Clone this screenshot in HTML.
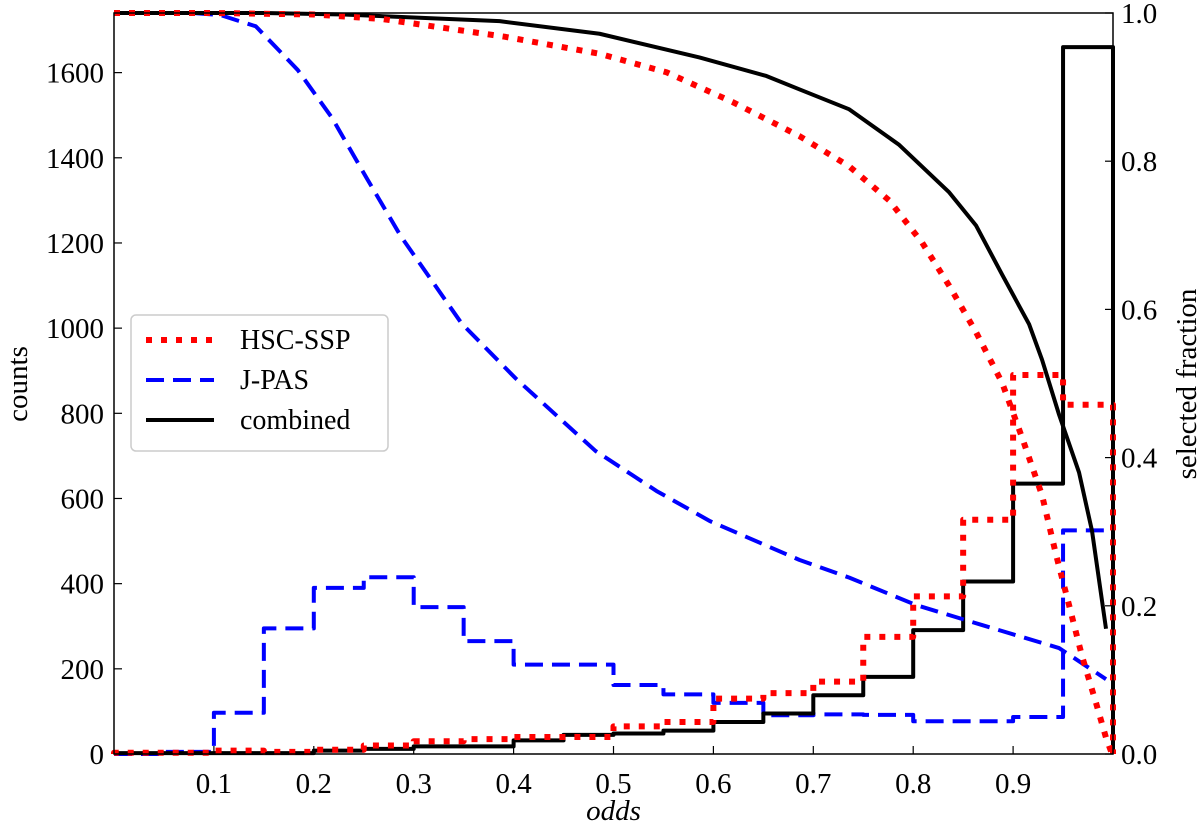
<!DOCTYPE html>
<html><head><meta charset="utf-8"><style>
html,body{margin:0;padding:0;background:#fff;}
svg{display:block;font-family:"Liberation Serif",serif;}
</style></head><body>
<svg id="chart" width="1200" height="828" viewBox="0 0 1200 828" xmlns="http://www.w3.org/2000/svg"></svg>
<script>
const binEdges=[0,0.05,0.1,0.15,0.2,0.25,0.3,0.35,0.4,0.45,0.5,0.55,0.6,0.65,0.7,0.75,0.8,0.85,0.9,0.95,1.0];
const histHSC=[3,3,8,5,10,20,30,35,40,40,65,75,130,143,170,275,370,550,890,820];
const histJPAS=[0,5,97,295,390,415,345,265,210,210,162,140,120,91,93,92,77,77,87,525];
const histComb=[2,2,2,2,8,12,18,18,32,45,48,55,75,95,138,181,291,405,635,1660];
const fracHSC_x=[0,0.1,0.2,0.268,0.391,0.486,0.553,0.619,0.686,0.736,0.776,0.809,0.836,0.863,0.889,0.909,0.929,0.943,0.956,0.969,0.983,0.993,0.999];
const fracHSC_y=[1,1,0.998,0.992,0.968,0.945,0.92,0.88,0.834,0.793,0.747,0.69,0.632,0.569,0.501,0.427,0.349,0.269,0.201,0.132,0.069,0.022,0];
const fracJPAS_x=[0,0.08,0.107,0.142,0.184,0.218,0.253,0.287,0.318,0.348,0.402,0.482,0.543,0.597,0.686,0.736,0.803,0.869,0.946,0.993];
const fracJPAS_y=[1,1,0.997,0.982,0.923,0.859,0.777,0.699,0.639,0.581,0.507,0.409,0.355,0.314,0.262,0.238,0.201,0.174,0.143,0.101];
const fracComb_x=[0,0.15,0.23,0.386,0.486,0.586,0.653,0.686,0.736,0.786,0.836,0.863,0.889,0.916,0.929,0.946,0.966,0.979,0.993];
const fracComb_y=[1,1,0.998,0.989,0.972,0.94,0.915,0.897,0.87,0.822,0.758,0.713,0.647,0.58,0.532,0.458,0.38,0.301,0.169];
const xTicks=[0.1,0.2,0.3,0.4,0.5,0.6,0.7,0.8,0.9];
const yTicks=[0,200,400,600,800,1000,1200,1400,1600];
const y2Ticks=[0,0.2,0.4,0.6,0.8,1.0];

const L=114,R=1113,T=13,B=754,YMAX=1740;
const sx=v=>L+v*(R-L);
const sy=v=>B-v/YMAX*(B-T);
const sy2=v=>B-v*(B-T);
const svg=document.getElementById('chart');
const NS='http://www.w3.org/2000/svg';
function mk(tag,attrs,parent){const e=document.createElementNS(NS,tag);for(const k in attrs)e.setAttribute(k,attrs[k]);(parent||svg).appendChild(e);return e;}

const plot=mk('g',{});



function stepPath(counts){let d='';for(let i=0;i<counts.length;i++){const x0=sx(binEdges[i]),x1=sx(binEdges[i+1]),y=sy(counts[i]);d+=(i===0?'M'+x0+','+sy(0)+'L':'L')+x0+','+y+'L'+x1+','+y;}d+='L'+sx(binEdges[counts.length])+','+sy(0);return d;}
function linePath(xs,ys){return xs.map((x,i)=>(i?'L':'M')+sx(x)+','+sy2(ys[i])).join('');}

const styles={hsc:{stroke:'#ff0000','stroke-dasharray':'6 9','stroke-width':6},jpas:{stroke:'#0000ff','stroke-dasharray':'18 9','stroke-width':4},comb:{stroke:'#000','stroke-width':4}};
function drawPath(d,st,name){const p=mk('path',Object.assign({d:d,fill:'none','stroke-linejoin':'round'},st),plot);}
drawPath(stepPath(histJPAS),styles.jpas,'jpas-histogram');
drawPath(stepPath(histComb),styles.comb,'combined-histogram');
drawPath(stepPath(histHSC),styles.hsc,'hsc-histogram');
drawPath(linePath(fracJPAS_x,fracJPAS_y),styles.jpas,'jpas-fraction-curve');
drawPath(linePath(fracComb_x,fracComb_y),styles.comb,'combined-fraction-curve');
drawPath(linePath(fracHSC_x,fracHSC_y),styles.hsc,'hsc-fraction-curve');

const fr=mk('rect',{x:L,y:T,width:R-L,height:B-T,fill:'none',stroke:'#000','stroke-width':1.5});



xTicks.forEach(v=>{const x=sx(v);mk('line',{x1:x,x2:x,y1:B,y2:B-8,stroke:'#000','stroke-width':1.2});
 const t=mk('text',{x:x,y:B+39,'font-size':29,'text-anchor':'middle'});t.textContent=v.toFixed(1);
 
 });
yTicks.forEach(v=>{const y=sy(v);mk('line',{x1:L,x2:L+8,y1:y,y2:y,stroke:'#000','stroke-width':1.2});
 const t=mk('text',{x:L-10,y:y+10,'font-size':29,'text-anchor':'end'});t.textContent=v;
 
 });
y2Ticks.forEach(v=>{const y=sy2(v);mk('line',{x1:R,x2:R-8,y1:y,y2:y,stroke:'#000','stroke-width':1.2});
 const t=mk('text',{x:R+8,y:y+10,'font-size':29,'text-anchor':'start'});t.textContent=v.toFixed(1);
 
 });

const xl=mk('text',{x:sx(0.5),y:820,'font-size':29,'font-style':'italic','text-anchor':'middle'});xl.textContent='odds';


const yl=mk('text',{x:0,y:0,'font-size':29,'text-anchor':'middle',transform:'translate(27,384) rotate(-90)'});yl.textContent='counts';


const y2l=mk('text',{x:0,y:0,'font-size':29,'text-anchor':'middle',transform:'translate(1196,384) rotate(-90)'});y2l.textContent='selected fraction';



const lg=mk('g',{});


mk('rect',{x:131,y:315,width:257,height:136,rx:5,fill:'#fff','fill-opacity':0.85,stroke:'#ccc','stroke-width':1.5},lg);
const entries=[['HSC-SSP',styles.hsc],['J-PAS',styles.jpas],['combined',styles.comb]];
entries.forEach((e,i)=>{const y=340+i*40;
 const ge=mk('g',{},lg);
 
 
 mk('line',Object.assign({x1:146,x2:214,y1:y,y2:y},e[1]),ge);
 const t=mk('text',{x:240,y:y+9,'font-size':28},ge);t.textContent=e[0];});
</script>
</body></html>
